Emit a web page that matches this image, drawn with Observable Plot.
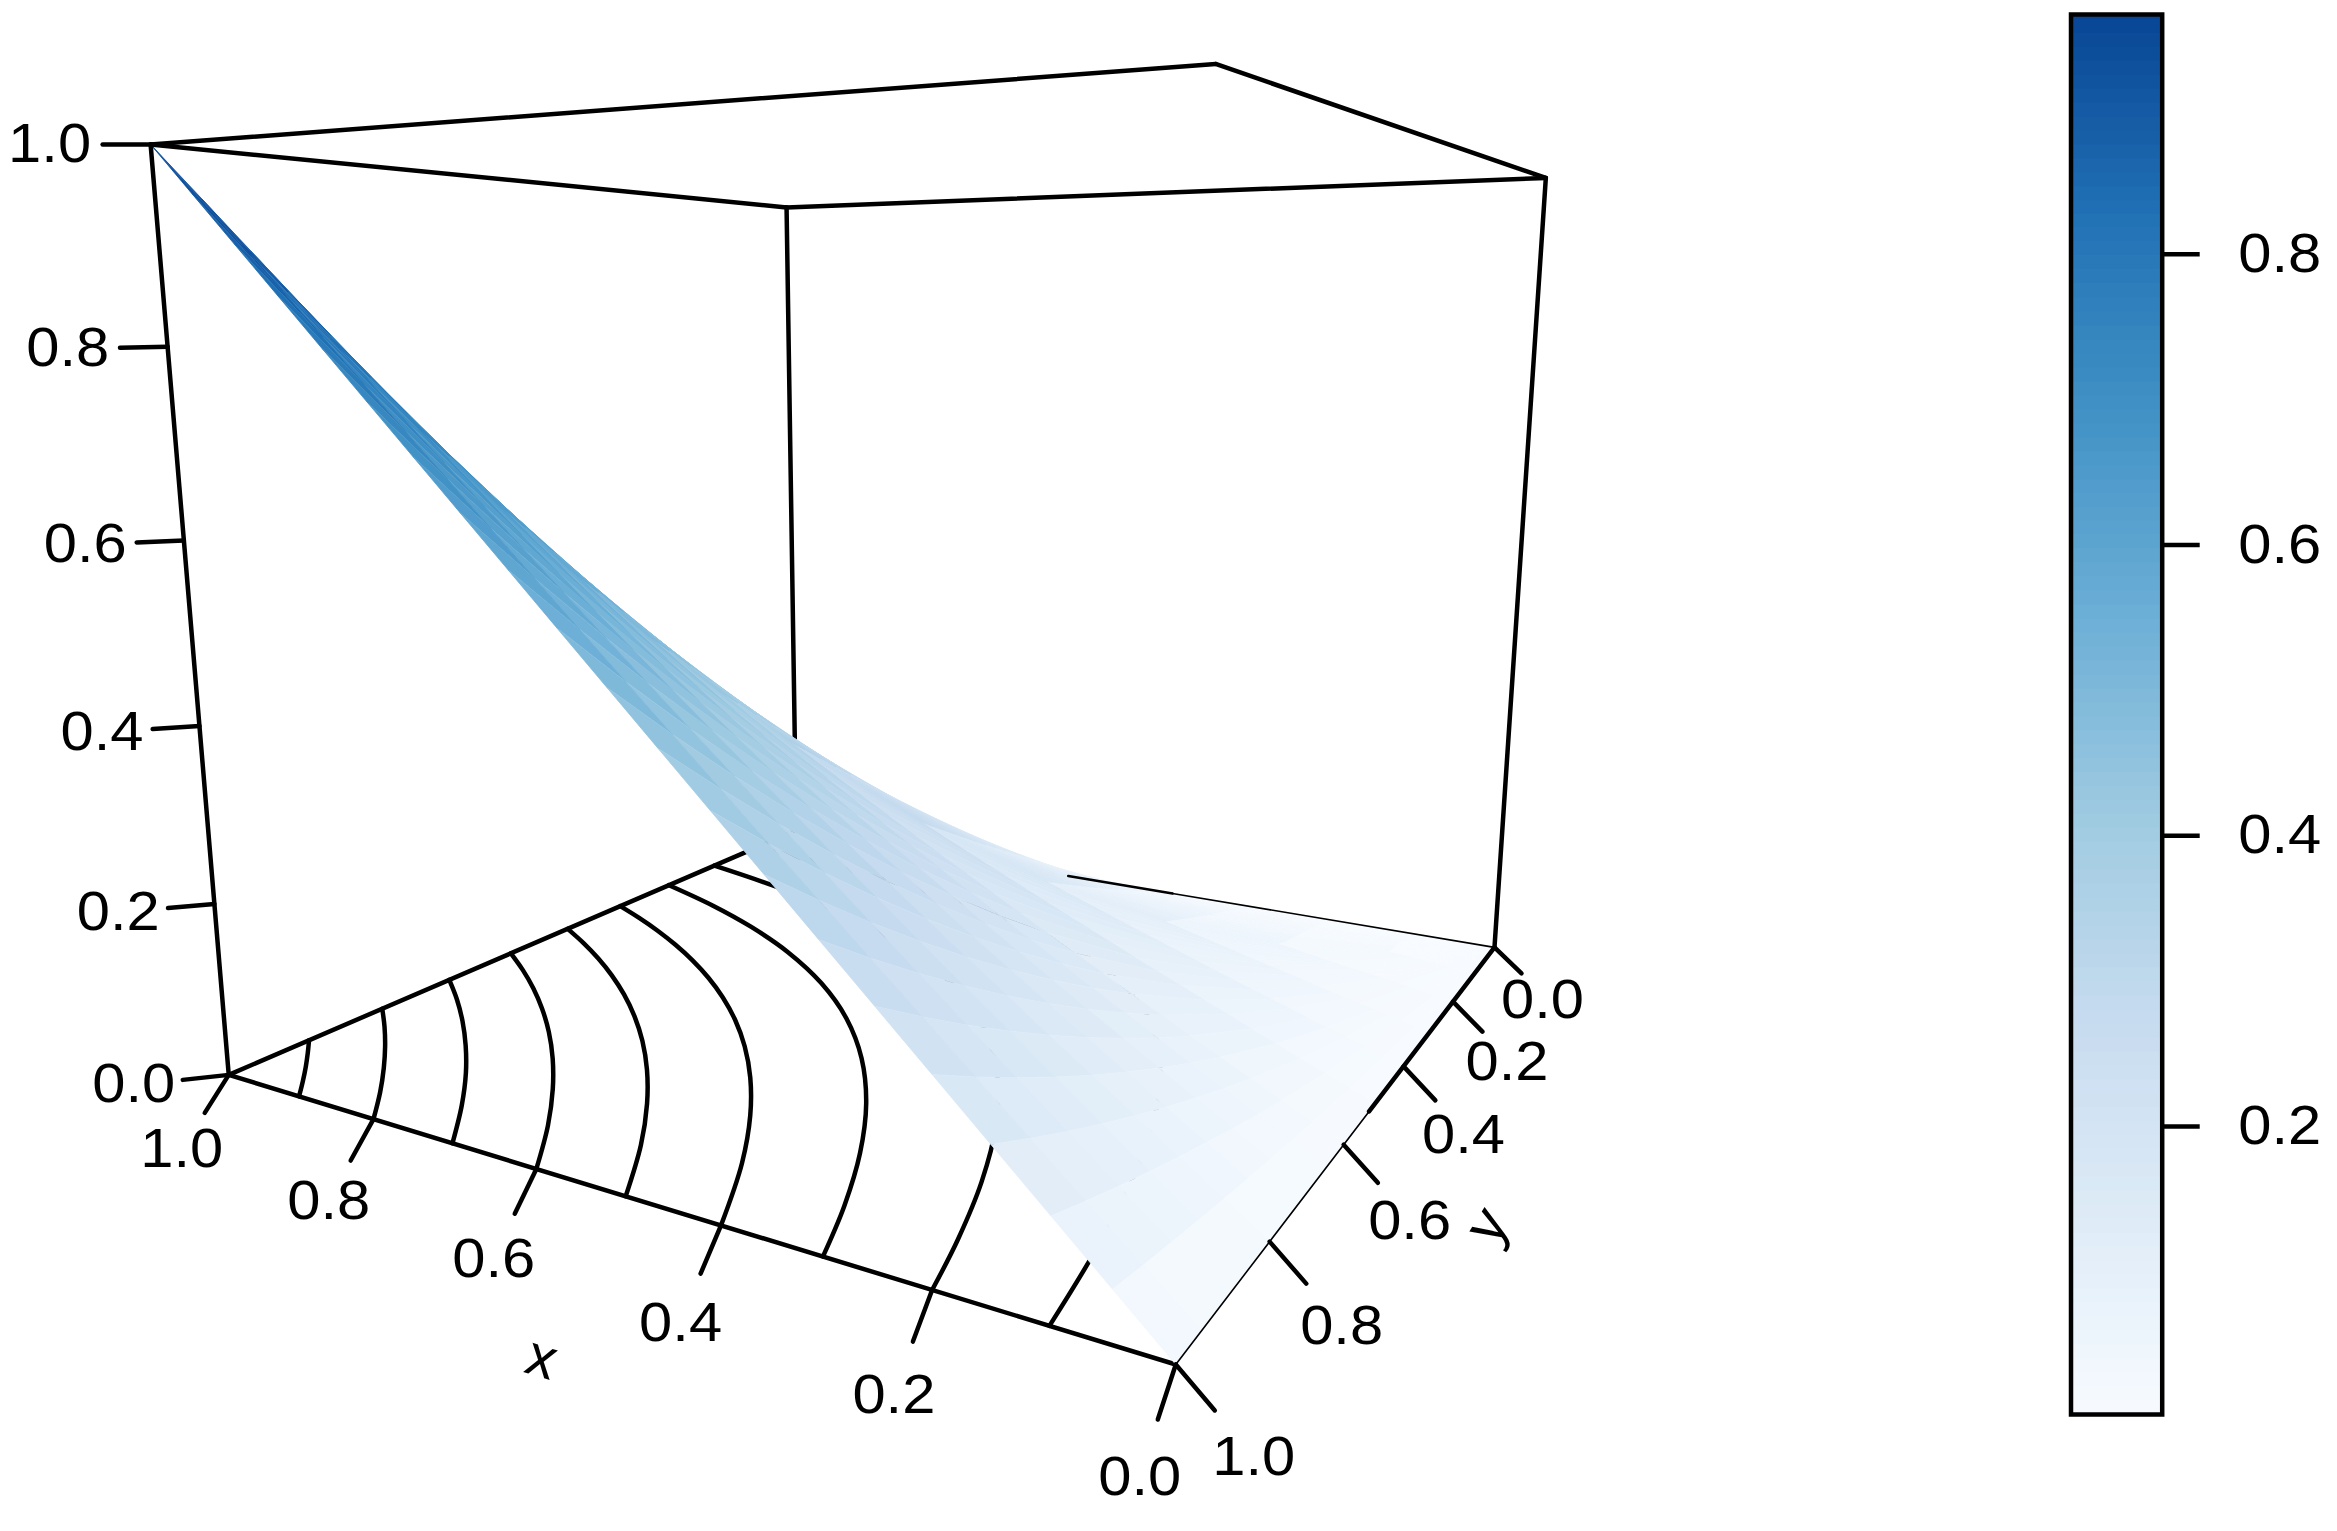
<!DOCTYPE html>
<html><head><meta charset="utf-8">
<style>html,body{margin:0;padding:0;background:#fff;overflow:hidden}#w{position:relative;width:2337px;height:1531px}#w svg{position:absolute;top:0;background:transparent}</style>
<script src="https://cdn.jsdelivr.net/npm/d3@7"></script>
<script src="https://cdn.jsdelivr.net/npm/@observablehq/plot@0.6"></script>
</head><body><div id="w"></div>
<script>
// box corners: [x, y, z, screenX, screenY]
const cameraAnchors = [
 [1,1,0,227,1074],[0,1,0,1176,1364],[0,0,0,1493,947],[1,0,0,797,830],
 [1,1,1,151,144],[1,0,1,785,207],[0,0,1,1546,177],[0,1,1,1215,64]];
const blues = ["#F7FBFF","#DEEBF7","#C6DBEF","#9ECAE1","#6BAED6","#4292C6","#2171B5","#084594"];
const colorStops = [0.0018,0.1394,0.2770,0.4146,0.5522,0.6898,0.8274,0.965];
const axisTicks = [0,0.2,0.4,0.6,0.8,1];
const barTicks = [0.2,0.4,0.6,0.8];

// surface rays from (0,0): ends on the edges y=1 then x=1
const rayEndX = [0,.05,.1,.15,.2,.25,.3,.35,.4,.45,.5,.55,.6,.65,.7,.75,.8,.85,.9,.95,1,1,1,1,1,1,1,1,1,1,1,1,1,1,1,1,1,1,1,1,1];
const rayEndY = [1,1,1,1,1,1,1,1,1,1,1,1,1,1,1,1,1,1,1,1,1,.95,.9,.85,.8,.75,.7,.65,.6,.55,.5,.45,.4,.35,.3,.25,.2,.15,.1,.05,0];
const radii = [0,.1,.2,.3,.4,.5,.6,.65,.7,.75,.8,.85,.9,.95,1];
const halfZ = [
[0,0,0,0,0,0,0,0,0,0,0,0,0,0,0],
[0,.0004,.0017,.0038,.0070,.0111,.0164,.0195,.0229,.0265,.0305,.0349,.0396,.0446,.05],
[0,.0008,.0033,.0077,.0140,.0223,.0329,.0391,.0458,.0532,.0612,.0699,.0792,.0893,.1],
[0,.0012,.0050,.0116,.0210,.0336,.0495,.0587,.0689,.0799,.0920,.1049,.1189,.1340,.15],
[0,.0016,.0067,.0155,.0281,.0449,.0662,.0785,.0921,.1068,.1228,.1401,.1587,.1787,.2],
[0,.0020,.0084,.0194,.0352,.0563,.0830,.0984,.1153,.1338,.1538,.1754,.1986,.2235,.25],
[0,.0025,.0101,.0233,.0424,.0678,.0998,.1184,.1387,.1609,.1849,.2108,.2386,.2684,.3],
[0,.0029,.0118,.0272,.0496,.0793,.1168,.1385,.1623,.1882,.2162,.2464,.2787,.3133,.35],
[0,.0033,.0135,.0312,.0568,.0909,.1338,.1587,.1859,.2155,.2475,.2820,.3189,.3582,.4],
[0,.0037,.0152,.0352,.0641,.1025,.1509,.1789,.2096,.2430,.2790,.3177,.3591,.4033,.45],
[0,.0041,.0169,.0392,.0714,.1142,.1681,.1993,.2335,.2705,.3106,.3536,.3995,.4483,.5],
[0,.0045,.0187,.0432,.0787,.1260,.1854,.2198,.2574,.2982,.3423,.3895,.4399,.4935,.55],
[0,.0050,.0204,.0472,.0861,.1378,.2028,.2404,.2815,.3261,.3741,.4255,.4804,.5386,.6],
[0,.0053,.0221,.0512,.0935,.1497,.2203,.2611,.3057,.3540,.4060,.4617,.5210,.5839,.65],
[0,.0058,.0239,.0553,.1009,.1616,.2379,.2819,.3300,.3820,.4380,.4980,.5617,.6291,.7],
[0,.0062,.0256,.0594,.1084,.1736,.2555,.3028,.3544,.4102,.4702,.5343,.6024,.6745,.75],
[0,.0066,.0274,.0635,.1159,.1857,.2733,.3238,.3789,.4385,.5025,.5708,.6433,.7199,.8],
[0,.0070,.0291,.0676,.1235,.1978,.2911,.3449,.4035,.4669,.5349,.6074,.6842,.7653,.85],
[0,.0075,.0309,.0717,.1311,.2100,.3090,.3661,.4282,.4954,.5674,.6441,.7253,.8108,.9],
[0,.0079,.0327,.0759,.1387,.2222,.3270,.3874,.4531,.5240,.6000,.6809,.7664,.8563,.95],
[0,.0083,.0344,.0800,.1464,.2346,.3451,.4088,.4780,.5528,.6327,.7178,.8076,.9019,1]];
const surfaceZ = halfZ.concat(halfZ.slice(0,20).reverse());

// contour lines on the floor
const contourLevels = [.9,.8,.7,.6,.5,.4,.3,.2,.1];
const contourX = [
[.9,.925,.95,.975,1],
[.8,.84,.88,.92,.96,1],
[.7,.75,.8,.85,.9,.95,1],
[.6,.65,.7,.75,.8,.85,.9,.95,1],
[.5,.55,.6,.65,.7,.75,.8,.85,.9,.95,1],
[.4,.45,.5,.55,.6,.65,.7,.75,.8,.85,.9,.95,1],
[.3,.33,.37,.42,.48,.55,.63,.72,.81,.9,1],
[.2,.22,.25,.29,.34,.4,.48,.58,.7,.85,1],
[.1,.12,.15,.2,.27,.38,.55,.77,1]];
const contourY = [
[1,.9735,.948,.9236,.9],
[1,.954,.9115,.8718,.8347,.8],
[1,.937,.88,.8288,.782,.7392,.7],
[1,.9288,.8658,.8095,.759,.7135,.6721,.6345,.6],
[1,.9175,.8462,.7838,.7288,.68,.6364,.5971,.5616,.5294,.5],
[1,.901,.8182,.7479,.6875,.635,.589,.5484,.5122,.4798,.4505,.4241,.4],
[1,.9211,.8322,.7411,.6532,.5717,.4983,.4332,.3813,.3388,.3],
[1,.9228,.8261,.7235,.6247,.5349,.4466,.3677,.3007,.242,.2],
[1,.8592,.708,.5455,.4102,.292,.1982,.1363,.1]];

// tick and label offsets on the screen, read at the two ends of each axis
const xTickAt0=[-18,55], xTickAt1=[-24,38], xLabelAt0=[-36,113], xLabelAt1=[-47,75];
const yTickAt0=[27,26],  yTickAt1=[39,46],  yLabelAt0=[48,53],  yLabelAt1=[78,93];
const zTickAt0=[-46,5],  zTickAt1=[-48,0],  zLabelAt0=[-95,10], zLabelAt1=[-101,0];

function solveCamera(a){
  const rows=[],rhs=[];
  for(const [x,y,z,u,v] of a){
    rows.push([x,y,z,1,0,0,0,0,-u*x,-u*y,-u*z]);rhs.push(u);
    rows.push([0,0,0,0,x,y,z,1,-v*x,-v*y,-v*z]);rhs.push(v);
  }
  const n=11,M=[];
  for(let i=0;i<n;i++){M[i]=[];for(let j=0;j<n;j++)M[i][j]=d3.sum(rows,r=>r[i]*r[j]);M[i][n]=d3.sum(rows,(r,k)=>r[i]*rhs[k]);}
  for(let i=0;i<n;i++){let p=i;for(let k=i+1;k<n;k++)if(Math.abs(M[k][i])>Math.abs(M[p][i]))p=k;[M[i],M[p]]=[M[p],M[i]];
    for(let k=0;k<n;k++)if(k!==i){const f=M[k][i]/M[i][i];for(let j=i;j<=n;j++)M[k][j]-=f*M[i][j];}}
  return M.map((r,i)=>r[n]/r[i]);
}
const C=solveCamera(cameraAnchors);
const W=(x,y,z)=>C[8]*x+C[9]*y+C[10]*z+1;
const SX=(x,y,z)=>(C[0]*x+C[1]*y+C[2]*z+C[3])/W(x,y,z);
const SY=(x,y,z)=>(C[4]*x+C[5]*y+C[6]*z+C[7])/W(x,y,z);
const pt=(x,y,z)=>({px:SX(x,y,z),py:SY(x,y,z)});
const seg=(a,b)=>({x1:SX(...a),y1:SY(...a),x2:SX(...b),y2:SY(...b)});
const mix=(a,b,t)=>[a[0]+(b[0]-a[0])*t,a[1]+(b[1]-a[1])*t];

const quads=[];
rayEndX.forEach((_,i)=>{ if(i===rayEndX.length-1) return;
  radii.forEach((_,j)=>{ if(j===radii.length-1) return;
    const P=(a,b)=>[rayEndX[a]*radii[b],rayEndY[a]*radii[b],surfaceZ[a][b]];
    const c=[P(i,j),P(i+1,j),P(i+1,j+1),P(i,j+1)];
    quads.push({c,val:d3.mean(c,p=>p[2]),w:d3.mean(c,p=>W(...p)),id:i*100+j});
  });
});
quads.sort((a,b)=>b.w-a.w);
const surfaceRows=quads.flatMap(q=>q.c.map(p=>({...pt(...p),id:q.id,val:q.val})));
const contours=contourLevels.flatMap((lv,k)=>contourX[k].map((x,i)=>({...pt(x,contourY[k][i],0),lv})));

const A=[1,1,0],B=[1,0,0],Cc=[0,1,0],D=[0,0,0],E=[1,1,1],F=[1,0,1],G=[0,0,1],H=[0,1,1];
const underLines=[seg(A,Cc),seg(A,B),seg(F,B)];
const overLines=[seg(E,F),seg(F,G),seg(G,H),seg(H,E),seg(A,E),seg(G,D)];
const thickEdge=[seg(D,[0,.52,0])];
const thinEdge=[seg([0,.52,0],Cc),seg(D,[.41,0,0])];
const midEdge=[seg([.41,0,0],[.56,0,0])];

const off=(base,o)=>({x1:base.px,y1:base.py,x2:base.px+o[0],y2:base.py+o[1]});
const tag=(base,o,text)=>({px:base.px+o[0],py:base.py+o[1],text});
const fmt=d3.format(".1f");
const ticks=axisTicks.flatMap(t=>[
  off(pt(t,1,0),mix(xTickAt0,xTickAt1,t)),
  off(pt(0,t,0),mix(yTickAt0,yTickAt1,t)),
  off(pt(1,1,t),mix(zTickAt0,zTickAt1,t))]);
const labels=axisTicks.flatMap(t=>[
  tag(pt(t,1,0),mix(xLabelAt0,xLabelAt1,t),fmt(t)),
  tag(pt(0,t,0),mix(yLabelAt0,yLabelAt1,t),fmt(t)),
  tag(pt(1,1,t),mix(zLabelAt0,zLabelAt1,t),fmt(t))]);
const xName=tag(pt(.5,1,0),[-84,162],"x"), yName=tag(pt(0,.5,0),[112,122],"y");

const lineStyle={x1:"x1",y1:"y1",x2:"x2",y2:"y2",stroke:"#000",strokeWidth:4.5,strokeLinecap:"round"};
const font="Liberation Sans, Arimo, Helvetica, sans-serif";
const main=Plot.plot({width:2337,height:1531,margin:0,
  x:{domain:[0,2337],range:[0,2337],axis:null},
  y:{domain:[0,1531],range:[0,1531],axis:null},
  color:{type:"linear",domain:colorStops,range:blues,interpolate:"rgb",clamp:true},
  style:{fontFamily:font,background:"transparent"},
  marks:[
   Plot.link(underLines,lineStyle),
   Plot.line(contours,{x:"px",y:"py",z:"lv",stroke:"#000",strokeWidth:4.5,curve:"catmull-rom"}),
   Plot.line(surfaceRows,{x:"px",y:"py",z:"id",fill:"val",stroke:"val",strokeWidth:.8}),
   Plot.link(overLines,lineStyle),
   Plot.link(ticks,lineStyle),
   Plot.link(thickEdge,lineStyle),
   Plot.link(midEdge,{...lineStyle,strokeWidth:2.6}),
   Plot.link(thinEdge,{...lineStyle,strokeWidth:1.6}),
   Plot.text(labels,{x:"px",y:"py",text:"text",fontSize:55,fill:"#000"}),
   Plot.text([xName],{x:"px",y:"py",text:"text",fontSize:58,rotate:17,fill:"#000"}),
   Plot.text([yName],{x:"px",y:"py",text:"text",fontSize:58,rotate:-58,fill:"#000"})
  ]});

const barMin=0.0018,barMax=0.965,barStep=0.0096;
const barLevels=d3.range(barMin,barMax,barStep);
const bar=Plot.plot({width:297,height:1531,marginLeft:30.5,marginRight:175.3,marginTop:14,marginBottom:117,
  x:{domain:[0,1],axis:null},
  y:{domain:[barMin,barMax],axis:null},
  color:{type:"linear",domain:colorStops,range:blues,interpolate:"rgb",clamp:true},
  style:{fontFamily:font,background:"transparent"},
  marks:[
   Plot.rect(barLevels,{x1:0,x2:1,y1:d=>d,y2:d=>Math.min(d+barStep*1.05,barMax),fill:d=>d+barStep/2}),
   Plot.axisY({anchor:"right",ticks:barTicks,tickSize:37,tickPadding:39,tickFormat:".1f",fontSize:55,label:null,strokeWidth:4.5,stroke:"#000",color:"#000",textStroke:"none"}),
   Plot.frame({stroke:"#000",strokeWidth:4.5})
  ]});
bar.style.left="2040px";main.style.left="0";
document.getElementById("w").append(main,bar);
// the reference's digits are a little wider than the font's own
for(const svg of [main,bar]) svg.querySelectorAll("text").forEach(t=>{
  if(t.textContent.length===3){t.setAttribute("textLength","83");t.setAttribute("lengthAdjust","spacingAndGlyphs");}
});
</script></body></html>
